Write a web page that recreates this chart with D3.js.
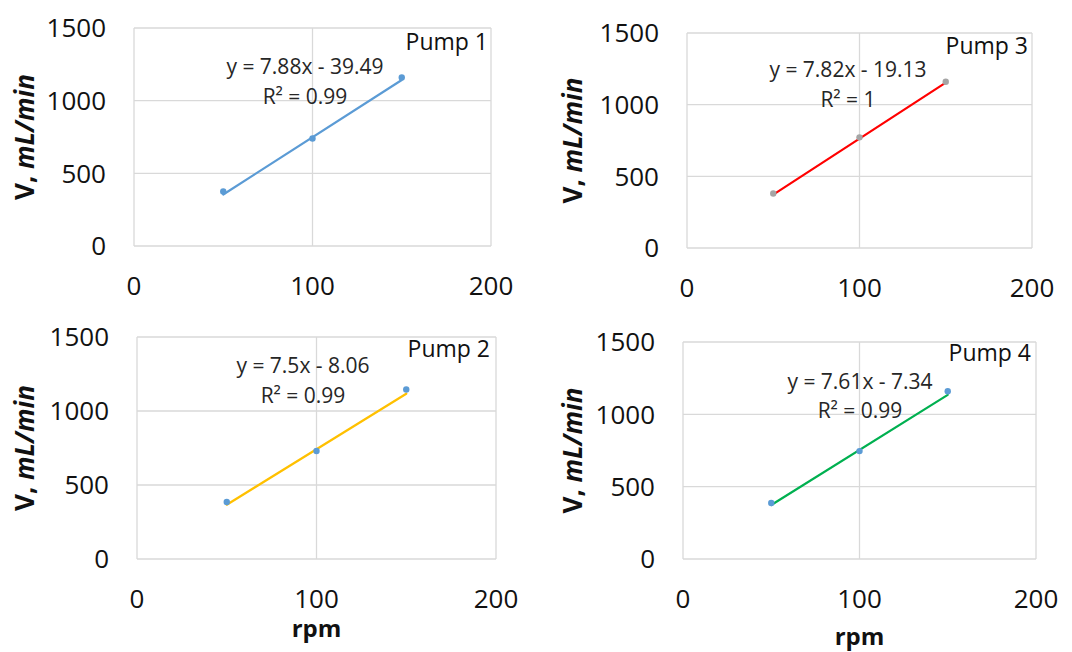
<!DOCTYPE html>
<html>
<head>
<meta charset="utf-8">
<script src="https://cdn.jsdelivr.net/npm/d3@7"></script>
<style>
  body { margin: 0; background: #fff; }
  svg { display: block; font-family: 'Open Sans', sans-serif; }
</style>
</head>
<body>
<svg id="chart" width="1072" height="652"></svg>
<script>
// data
const rpm = [50, 100, 150]
const pump1 = [375, 740, 1160]
const pump2 = [385, 730, 1145]
const pump3 = [380, 772, 1160]
const pump4 = [387, 746, 1160]
const slopes = [7.88, 7.5, 7.82, 7.61]
const intercepts = [-39.49, -8.06, -19.13, -7.34]
const r2Labels = ['0.99', '0.99', '1', '0.99']
const pumpNames = ['Pump 1', 'Pump 2', 'Pump 3', 'Pump 4']
const xTicks = [0, 100, 200]
const yTicks = [0, 500, 1000, 1500]

const series = [pump1, pump2, pump3, pump4]

// panel placement (pixels)
const panels = [
  { left: 134, right: 491, top: 28, bottom: 246, line: '#5b9bd5', dot: '#5b9bd5',
    eq: [305, 74, 104], pump: [488, 50], rpm: false, titleX: 25 },
  { left: 137, right: 496, top: 337, bottom: 559, line: '#ffc000', dot: '#5b9bd5',
    eq: [303, 373, 403], pump: [490, 357], rpm: 637, titleX: 25 },
  { left: 687, right: 1032, top: 33, bottom: 248, line: '#ff0000', dot: '#a5a5a5',
    eq: [848, 77, 107], pump: [1028, 54], rpm: false, titleX: 573 },
  { left: 683, right: 1036, top: 342, bottom: 559, line: '#00b050', dot: '#5b9bd5',
    eq: [860, 389, 418], pump: [1031, 361], rpm: 645, titleX: 573 }
]

const svg = d3.select('#chart')

function fmtEq(m, b) {
  const sign = b < 0 ? ' - ' : ' + '
  return 'y = ' + m + 'x' + sign + Math.abs(b).toFixed(2)
}

function drawPanel(p, i) {
  const x = d3.scaleLinear().domain([0, 200]).range([p.left, p.right])
  const y = d3.scaleLinear().domain([0, 1500]).range([p.bottom, p.top])
  const g = svg.append('g')

  // grid + border
  g.selectAll('line.h')
    .data(yTicks)
    .enter()
    .append('line')
    .attr('x1', p.left).attr('x2', p.right)
    .attr('y1', (d) => y(d)).attr('y2', (d) => y(d))
    .attr('stroke', '#d9d9d9').attr('stroke-width', 1.3)
  g.selectAll('line.v')
    .data(xTicks)
    .enter()
    .append('line')
    .attr('y1', p.top).attr('y2', p.bottom)
    .attr('x1', (d) => x(d)).attr('x2', (d) => x(d))
    .attr('stroke', '#d9d9d9').attr('stroke-width', 1.3)

  // tick labels
  g.selectAll('text.yt')
    .data(yTicks)
    .enter()
    .append('text')
    .attr('x', p.left - 28)
    .attr('y', (d) => y(d))
    .attr('dy', '0.36em')
    .attr('text-anchor', 'end')
    .attr('font-size', 26)
    .attr('fill', '#111')
    .text((d) => d)
  g.selectAll('text.xt')
    .data(xTicks)
    .enter()
    .append('text')
    .attr('x', (d) => x(d))
    .attr('y', p.bottom + 49)
    .attr('text-anchor', 'middle')
    .attr('font-size', 26)
    .attr('fill', '#111')
    .text((d) => d)

  // axis titles
  const title = g.append('text')
    .attr('transform', 'translate(' + p.titleX + ',' + (p.top + p.bottom) / 2 + ') rotate(-90)')
    .attr('text-anchor', 'middle')
    .attr('dy', '0.35em')
    .attr('font-size', 26)
    .attr('font-weight', 'bold')
    .attr('fill', '#111')
  title.append('tspan').text('V, ')
  title.append('tspan').attr('font-style', 'italic').text('mL/min')

  if (p.rpm) {
    g.append('text')
      .attr('x', x(100))
      .attr('y', p.rpm)
      .attr('text-anchor', 'middle')
      .attr('font-size', 24)
      .attr('font-weight', 'bold')
      .attr('fill', '#111')
      .text('rpm')
  }

  // trendline from the fitted equation
  const m = slopes[i]
  const b = intercepts[i]
  const ext = d3.extent(rpm)
  g.append('line')
    .attr('x1', x(ext[0])).attr('y1', y(m * ext[0] + b))
    .attr('x2', x(ext[1])).attr('y2', y(m * ext[1] + b))
    .attr('stroke', p.line)
    .attr('stroke-width', 2.2)
    .attr('stroke-linecap', 'round')

  // measured points
  g.selectAll('circle')
    .data(rpm.map((r, k) => [r, series[i][k]]))
    .enter()
    .append('circle')
    .attr('cx', (d) => x(d[0]))
    .attr('cy', (d) => y(d[1]))
    .attr('r', 3.2)
    .attr('fill', p.dot)

  // labels
  g.append('text')
    .attr('x', p.eq[0]).attr('y', p.eq[1])
    .attr('text-anchor', 'middle')
    .attr('font-size', 21)
    .attr('fill', '#262626')
    .text(fmtEq(m, b))
  g.append('text')
    .attr('x', p.eq[0]).attr('y', p.eq[2])
    .attr('text-anchor', 'middle')
    .attr('font-size', 21)
    .attr('fill', '#262626')
    .text('R² = ' + r2Labels[i])
  g.append('text')
    .attr('x', p.pump[0]).attr('y', p.pump[1])
    .attr('text-anchor', 'end')
    .attr('font-size', 23)
    .attr('fill', '#111')
    .text(pumpNames[i])
}

panels.forEach(drawPanel)
</script>
</body>
</html>
